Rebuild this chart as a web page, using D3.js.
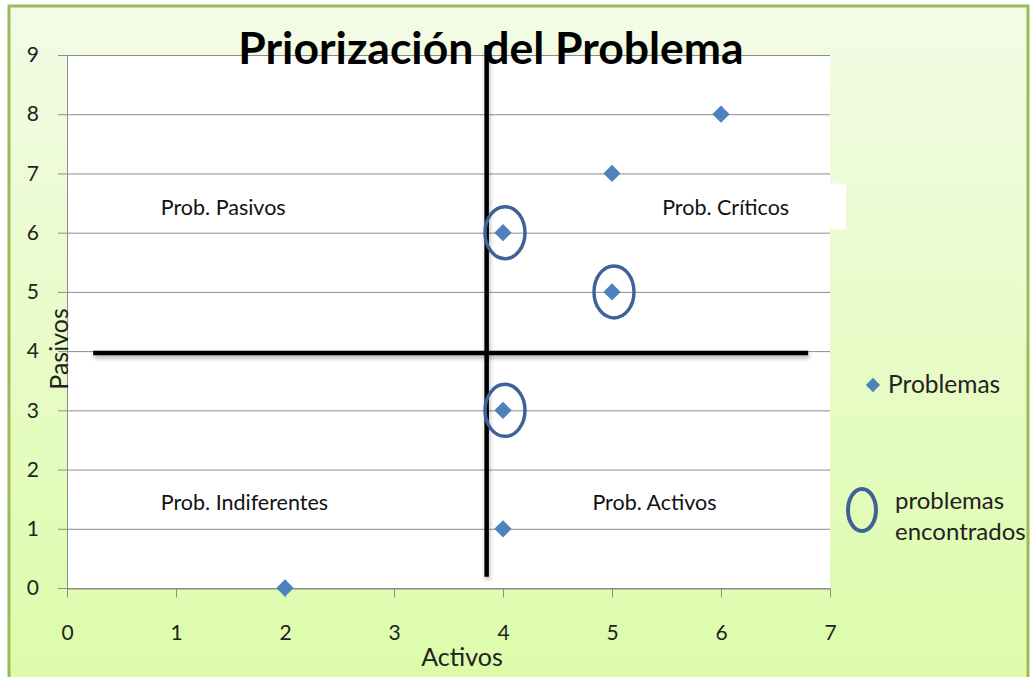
<!DOCTYPE html>
<html>
<head>
<meta charset="utf-8">
<script src="https://cdn.jsdelivr.net/npm/d3@7"></script>
<style>
  body { margin: 0; background: #fff; }
  svg { display: block; font-family: Lato, "Noto Sans", sans-serif; }
</style>
</head>
<body>
<div id="chart"></div>
<script>
var width = 1031,
    height = 677;

// datos
var activos = [6, 5, 4, 5, 4, 4, 2];
var pasivos = [8, 7, 6, 5, 3, 1, 0];
var encontrados = [2, 3, 4]; // indices de los problemas encerrados en circulo
var xTicks = [0, 1, 2, 3, 4, 5, 6, 7];
var yTicks = [0, 1, 2, 3, 4, 5, 6, 7, 8, 9];
var quadrantLabels = ["Prob. Pasivos", "Prob. Críticos", "Prob. Indiferentes", "Prob. Activos"];
var quadrantPos = [[0.86, 6.3], [5.46, 6.3], [0.86, 1.31], [4.82, 1.31]];
// lineas divisorias dibujadas a mano en el original
var divV = { x: 3.85, y0: 0.19, y1: 9.17 };
var divH = { y: 3.97, x0: 0.24, x1: 6.8 };

var margin = { left: 67, right: 201, top: 55, bottom: 89 };

var svg = d3.select("#chart")
    .append("svg")
    .attr("width", width)
    .attr("height", height);

var defs = svg.append("defs");
var grad = defs.append("linearGradient")
    .attr("id", "bg")
    .attr("x1", 0).attr("y1", 0).attr("x2", 0).attr("y2", 1);
grad.append("stop").attr("offset", "0%").attr("stop-color", "#f3fbe6");
grad.append("stop").attr("offset", "100%").attr("stop-color", "#dcfca9");

var shadow = defs.append("filter").attr("id", "shadow")
    .attr("filterUnits", "userSpaceOnUse")
    .attr("x", 0).attr("y", 0).attr("width", width).attr("height", height);
shadow.append("feDropShadow")
    .attr("dx", 1).attr("dy", 3).attr("stdDeviation", 2)
    .attr("flood-color", "#000").attr("flood-opacity", 0.3);

svg.append("rect")
    .attr("x", 9).attr("y", 6)
    .attr("width", 1019).attr("height", 680)
    .attr("fill", "url(#bg)")
    .attr("stroke", "#9bbb59")
    .attr("stroke-width", 3);

var x = d3.scaleLinear()
    .domain([0, 7])
    .range([margin.left, width - margin.right]);

var y = d3.scaleLinear()
    .domain([0, 9])
    .range([height - margin.bottom, margin.top]);

// area del grafico
svg.append("rect")
    .attr("x", x(0)).attr("y", y(9))
    .attr("width", x(7) - x(0)).attr("height", y(0) - y(9))
    .attr("fill", "#fff");

// caja blanca de "Prob. Críticos"
svg.append("rect")
    .attr("x", x(5.4)).attr("y", y(6.83))
    .attr("width", 846 - x(5.4)).attr("height", 46)
    .attr("fill", "#fff");

// lineas de cuadricula
svg.append("g")
    .selectAll("line")
    .data(yTicks)
    .enter().append("line")
    .attr("x1", x(0) - 9)
    .attr("x2", x(7))
    .attr("y1", function(d) { return y(d) + 0.5; })
    .attr("y2", function(d) { return y(d) + 0.5; })
    .attr("stroke", "#8c8c8c")
    .attr("stroke-width", 1);

var yAxis = svg.append("g")
    .attr("transform", "translate(" + x(0) + ",0)")
    .call(d3.axisLeft(y).tickValues(yTicks).tickSize(0).tickPadding(28).tickFormat(d3.format("d")));
yAxis.select(".domain").attr("stroke", "#8c8c8c");
yAxis.selectAll("text").attr("font-size", 21).attr("fill", "#222").attr("font-family", "Lato, sans-serif");

var xAxis = svg.append("g")
    .attr("transform", "translate(0," + (y(0) + 0.5) + ")")
    .call(d3.axisBottom(x).tickValues(xTicks).tickSizeInner(9).tickSizeOuter(0).tickPadding(28).tickFormat(d3.format("d")));
xAxis.select(".domain").attr("stroke", "#8c8c8c");
xAxis.selectAll(".tick line").attr("stroke", "#8c8c8c");
xAxis.selectAll("text").attr("font-size", 21).attr("fill", "#222").attr("font-family", "Lato, sans-serif");

// textos de cuadrantes
svg.append("g")
    .selectAll("text")
    .data(quadrantLabels)
    .enter().append("text")
    .attr("x", function(d, i) { return x(quadrantPos[i][0]); })
    .attr("y", function(d, i) { return y(quadrantPos[i][1]); })
    .attr("font-size", 21.5)
    .attr("fill", "#111")
    .text(function(d) { return d; });

// lineas divisorias
svg.append("line")
    .attr("x1", x(divV.x)).attr("x2", x(divV.x))
    .attr("y1", y(divV.y0)).attr("y2", y(divV.y1))
    .attr("stroke", "#000").attr("stroke-width", 4.5)
    .attr("filter", "url(#shadow)");
svg.append("line")
    .attr("x1", x(divH.x0)).attr("x2", x(divH.x1))
    .attr("y1", y(divH.y)).attr("y2", y(divH.y))
    .attr("stroke", "#000").attr("stroke-width", 4.5)
    .attr("filter", "url(#shadow)");

var diamond = d3.symbol().type(d3.symbolDiamond2).size(190);

svg.append("g")
    .selectAll("path")
    .data(activos)
    .enter().append("path")
    .attr("d", diamond)
    .attr("transform", function(d, i) { return "translate(" + x(d) + "," + y(pasivos[i]) + ")"; })
    .attr("fill", "#4f81bd");

svg.append("g")
    .selectAll("ellipse")
    .data(encontrados)
    .enter().append("ellipse")
    .attr("cx", function(i) { return x(activos[i]) + 2; })
    .attr("cy", function(i) { return y(pasivos[i]); })
    .attr("rx", 20)
    .attr("ry", 26)
    .attr("fill", "none")
    .attr("stroke", "#3d6399")
    .attr("stroke-width", 3.5);

// titulo
svg.append("text")
    .attr("x", 491).attr("y", 64)
    .attr("text-anchor", "middle")
    .attr("font-size", 44.5)
    .attr("font-weight", "bold")
    .attr("fill", "#000")
    .text("Priorización del Problema");

// titulos de ejes
svg.append("text")
    .attr("x", 462).attr("y", 666)
    .attr("text-anchor", "middle")
    .attr("font-size", 25)
    .attr("fill", "#222")
    .text("Activos");

svg.append("text")
    .attr("transform", "translate(68,349) rotate(-90)")
    .attr("text-anchor", "middle")
    .attr("font-size", 25)
    .attr("fill", "#222")
    .text("Pasivos");

// leyenda
svg.append("path")
    .attr("d", d3.symbol().type(d3.symbolDiamond2).size(130))
    .attr("transform", "translate(873,385)")
    .attr("fill", "#4f81bd");
svg.append("text")
    .attr("x", 888).attr("y", 393)
    .attr("font-size", 24.5)
    .attr("fill", "#222")
    .text("Problemas");

svg.append("ellipse")
    .attr("cx", 862).attr("cy", 510)
    .attr("rx", 14).attr("ry", 21)
    .attr("fill", "none")
    .attr("stroke", "#3d6399")
    .attr("stroke-width", 4);
var lt = svg.append("text")
    .attr("x", 895).attr("y", 509)
    .attr("font-size", 24)
    .attr("fill", "#222");
lt.append("tspan").attr("x", 895).text("problemas");
lt.append("tspan").attr("x", 895).attr("dy", 31).text("encontrados");
</script>
</body>
</html>
